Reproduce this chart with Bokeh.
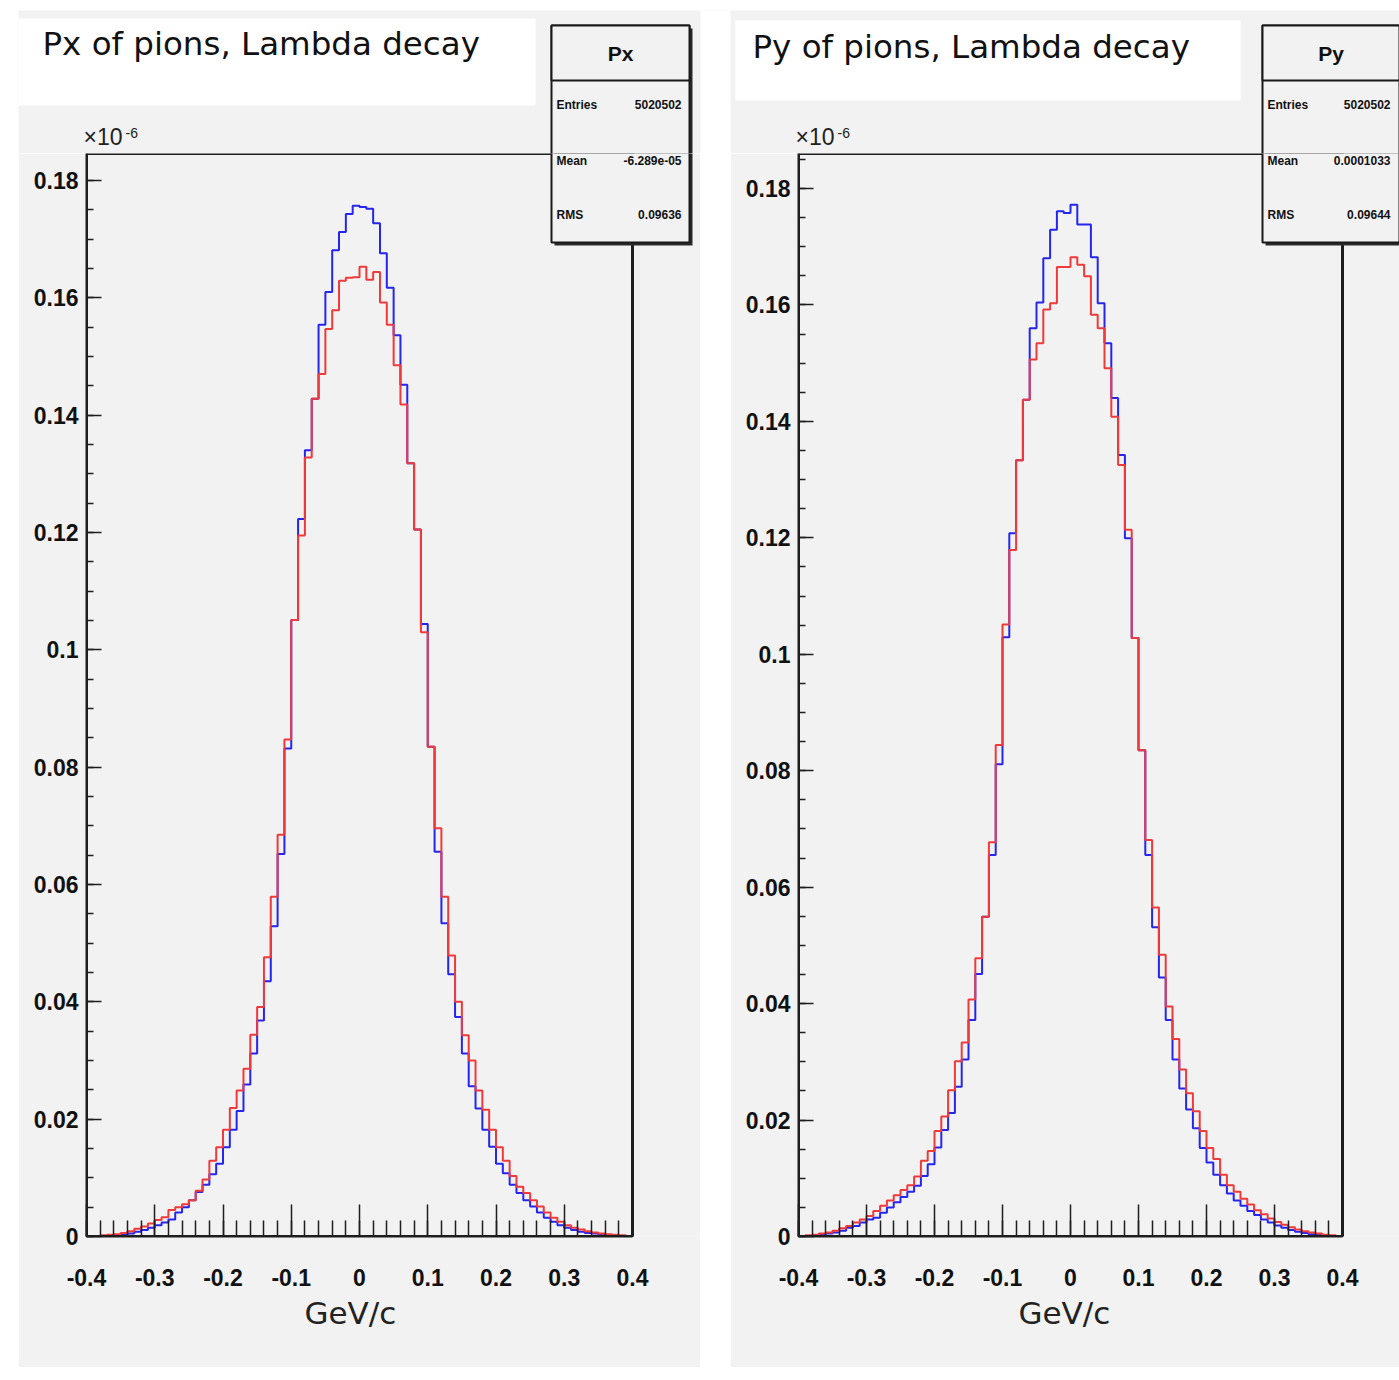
import numpy as np
from bokeh.plotting import figure
from bokeh.models import FixedTicker, BoxAnnotation, Label, Range1d, Spacer, Title
from bokeh.layouts import row, column
from bokeh.embed import file_html
from bokeh.resources import INLINE

# ---------------- data ----------------
n_bins = 80
x_low, x_high = -0.4, 0.4

px_blue = [0.00003, 0.00005, 0.0001, 0.0001, 0.0002, 0.0003, 0.0005, 0.0008, 0.0011, 0.0015,
           0.0019, 0.0024, 0.0029, 0.0041, 0.0050, 0.0062, 0.0076, 0.0088, 0.0106, 0.0124,
           0.0152, 0.0182, 0.0214, 0.0259, 0.0312, 0.0368, 0.0435, 0.0529, 0.0652, 0.0832,
           0.1051, 0.1223, 0.1340, 0.1428, 0.1554, 0.1610, 0.1681, 0.1712, 0.1743, 0.1757,
           0.1755, 0.1752, 0.1727, 0.1676, 0.1617, 0.1536, 0.1452, 0.1318, 0.1205, 0.1044,
           0.0835, 0.0656, 0.0534, 0.0447, 0.0374, 0.0312, 0.0256, 0.0218, 0.0182, 0.0153,
           0.0124, 0.0108, 0.0088, 0.0074, 0.0062, 0.0051, 0.0041, 0.0032, 0.0025, 0.0019,
           0.0015, 0.0011, 0.0008, 0.0006, 0.0005, 0.0003, 0.0002, 0.0002, 0.0001, 0.00005]

px_red = [0.00005, 0.0001, 0.0002, 0.0003, 0.0004, 0.0006, 0.0009, 0.0013, 0.0017, 0.0022,
          0.0028, 0.0033, 0.0045, 0.0050, 0.0055, 0.0062, 0.0078, 0.0097, 0.0129, 0.0152,
          0.0182, 0.0219, 0.0249, 0.0286, 0.0344, 0.0391, 0.0476, 0.0579, 0.0685, 0.0847,
          0.1051, 0.1195, 0.1328, 0.1428, 0.1470, 0.1547, 0.1579, 0.1629, 0.1634, 0.1635,
          0.1653, 0.1631, 0.1644, 0.1592, 0.1554, 0.1485, 0.1418, 0.1318, 0.1205, 0.1030,
          0.0835, 0.0696, 0.0579, 0.0479, 0.0400, 0.0343, 0.0300, 0.0249, 0.0216, 0.0182,
          0.0152, 0.0129, 0.0103, 0.0085, 0.0074, 0.0062, 0.0051, 0.0041, 0.0032, 0.0025,
          0.0019, 0.0015, 0.0012, 0.0009, 0.0007, 0.0005, 0.0004, 0.0003, 0.0002, 0.0001]

py_blue = [0.00005, 0.0001, 0.0002, 0.0003, 0.0005, 0.0007, 0.0010, 0.0015, 0.0018, 0.0024,
           0.0029, 0.0032, 0.0041, 0.0050, 0.0059, 0.0068, 0.0077, 0.0087, 0.0104, 0.0124,
           0.0153, 0.0183, 0.0212, 0.0257, 0.0304, 0.0372, 0.0451, 0.0549, 0.0655, 0.0811,
           0.1029, 0.1208, 0.1333, 0.1437, 0.1560, 0.1604, 0.1680, 0.1729, 0.1761, 0.1758,
           0.1772, 0.1738, 0.1738, 0.1682, 0.1603, 0.1534, 0.1440, 0.1342, 0.1199, 0.1028,
           0.0835, 0.0655, 0.0531, 0.0445, 0.0372, 0.0304, 0.0254, 0.0218, 0.0186, 0.0152,
           0.0127, 0.0106, 0.0088, 0.0074, 0.0062, 0.0053, 0.0044, 0.0037, 0.0029, 0.0024,
           0.0019, 0.0015, 0.0011, 0.0008, 0.0006, 0.0004, 0.0003, 0.0002, 0.0001, 0.00005]

py_red = [0.0001, 0.0002, 0.0003, 0.0005, 0.0007, 0.0010, 0.0014, 0.0018, 0.0024, 0.0029,
          0.0035, 0.0044, 0.0053, 0.0062, 0.0071, 0.0080, 0.0088, 0.0103, 0.0130, 0.0147,
          0.0181, 0.0206, 0.0251, 0.0301, 0.0333, 0.0407, 0.0478, 0.0549, 0.0677, 0.0844,
          0.1051, 0.1179, 0.1333, 0.1437, 0.1506, 0.1534, 0.1592, 0.1603, 0.1665, 0.1665,
          0.1682, 0.1669, 0.1649, 0.1583, 0.1560, 0.1491, 0.1408, 0.1325, 0.1214, 0.1028,
          0.0835, 0.0681, 0.0565, 0.0484, 0.0395, 0.0339, 0.0287, 0.0246, 0.0215, 0.0181,
          0.0152, 0.0133, 0.0106, 0.0088, 0.0077, 0.0065, 0.0055, 0.0045, 0.0038, 0.0031,
          0.0025, 0.0020, 0.0016, 0.0012, 0.0009, 0.0007, 0.0005, 0.0003, 0.0002, 0.0001]

x_ticks = [-0.4, -0.3, -0.2, -0.1, 0.0, 0.1, 0.2, 0.3, 0.4]
x_tick_labels = ["-0.4", "-0.3", "-0.2", "-0.1", "0", "0.1", "0.2", "0.3", "0.4"]
y_ticks = [0.0, 0.02, 0.04, 0.06, 0.08, 0.1, 0.12, 0.14, 0.16, 0.18]
y_tick_labels = ["0", "0.02", "0.04", "0.06", "0.08", "0.1", "0.12", "0.14", "0.16", "0.18"]

titles = ["Px of pions, Lambda decay", "Py of pions, Lambda decay"]
stat_names = ["Px", "Py"]
stat_entries = ["5020502", "5020502"]
stat_means = ["-6.289e-05", "0.0001033"]
stat_rms = ["0.09636", "0.09644"]
x_label = "GeV/c"

# ---------------- layout (page pixels) ----------------
PAGE_L, PAGE_R = 18, 1399
PANEL_TOP = 10
FRAME_TOP = 153
FRAME_BOTTOM = 1236
EDGE_TOP = 1367
PANEL_BOTTOM = 1370
BORDER_L = 68

GRAY = "#f2f2f2"
EDGE = "#b4b4b4"
BLUE = "#2525f0"
RED = "#f03a3a"
AXC = "#1e1e1e"

panels = [
    dict(left=18, width=682, frame_w=546, y_top=0.1846, blue=px_blue, red=px_red,
         title_box=(18, 18, 535, 105), title_xy=(42, 43),
         stats_box=(551, 25, 689, 242), stats_right=681, xlabel_cx=350),
    dict(left=730, width=669, frame_w=544, y_top=0.186, blue=py_blue, red=py_red,
         title_box=(735, 20, 1240, 100), title_xy=(752, 46),
         stats_box=(1262, 25, 1399, 242), stats_right=1390, xlabel_cx=1064),
]


def add_stats(p, X, Y, idx, cfg, part):
    l, t, r, b = cfg["stats_box"]
    hdr = t + 55
    p.add_layout(BoxAnnotation(left=X(l + 3), right=X(r + 3), top=Y(t + 3), bottom=Y(b + 3),
                               fill_color="#2a2a2a", fill_alpha=1, line_alpha=0))
    p.add_layout(BoxAnnotation(left=X(l), right=X(r), top=Y(t), bottom=Y(b),
                               fill_color=GRAY, fill_alpha=1, line_color="#1a1a1a",
                               line_alpha=1, line_width=2))
    p.add_layout(BoxAnnotation(left=X(l), right=X(r), top=Y(t), bottom=Y(hdr),
                               fill_color=GRAY, fill_alpha=1, line_color="#1a1a1a",
                               line_alpha=1, line_width=2))
    rows_y = [t + 79, t + 135, t + 189]
    names = ["Entries", "Mean", "RMS"]
    vals = [stat_entries[idx], stat_means[idx], stat_rms[idx]]
    if part == "top":
        p.add_layout(Label(x=X((l + r) / 2), y=Y((t + hdr) / 2), text=stat_names[idx],
                           text_font="Liberation Sans", text_font_style="bold",
                           text_font_size="21px", text_color="#111111",
                           text_align="center", text_baseline="middle"))
    for ry, nm, vv in zip(rows_y, names, vals):
        if (ry < FRAME_TOP) != (part == "top"):
            continue
        p.add_layout(Label(x=X(l + 5), y=Y(ry), text=nm, text_font="Liberation Sans",
                           text_font_style="bold", text_font_size="12px", text_color="#111111",
                           text_align="left", text_baseline="middle"))
        p.add_layout(Label(x=X(cfg["stats_right"]), y=Y(ry), text=vv, text_font="Liberation Sans",
                           text_font_style="bold", text_font_size="12px", text_color="#111111",
                           text_align="right", text_baseline="middle"))


# ---- top strip across the page: titles, stats headers, exponent ----
top = figure(width=PAGE_R - PAGE_L, height=FRAME_TOP - PANEL_TOP,
             x_range=Range1d(PAGE_L, PAGE_R), y_range=Range1d(FRAME_TOP, PANEL_TOP),
             x_axis_type=None, y_axis_type=None, min_border=0,
             output_backend="svg", toolbar_location=None)
top.background_fill_color = GRAY
top.border_fill_color = GRAY
top.outline_line_color = None
top.grid.visible = False
top.add_layout(BoxAnnotation(left=panels[0]["left"] + panels[0]["width"], right=panels[1]["left"],
                             top=PANEL_TOP, bottom=FRAME_TOP, fill_color="white",
                             fill_alpha=1, line_alpha=0))

ident = lambda v: v
for idx, cfg in enumerate(panels):
    l, t, r, b = cfg["title_box"]
    top.add_layout(BoxAnnotation(left=l, right=r, top=t, bottom=b,
                                 fill_color="white", fill_alpha=1, line_alpha=0))
    top.add_layout(Label(x=cfg["title_xy"][0], y=cfg["title_xy"][1], text=titles[idx],
                         text_font="DejaVu Sans", text_font_size="32.5px", text_color="#111111",
                         text_baseline="middle", text_align="left"))
    fx0 = cfg["left"] + BORDER_L
    top.add_layout(Label(x=fx0 - 3, y=149, text="\u00d710", text_font="Liberation Sans",
                         text_font_size="23px", text_color="#222222", text_baseline="bottom"))
    top.add_layout(Label(x=fx0 + 39, y=137, text="-6", text_font="Liberation Sans",
                         text_font_size="14px", text_color="#222222", text_baseline="bottom"))
    add_stats(top, ident, ident, idx, cfg, "top")


def make_main(idx, cfg):
    fx0 = cfg["left"] + BORDER_L
    fh = FRAME_BOTTOM - FRAME_TOP
    frame_w = cfg["frame_w"]
    y_top = cfg["y_top"]
    ext_w = cfg["left"] + cfg["width"] - fx0

    def X(px):
        return x_low + (px - fx0) * (x_high - x_low) / frame_w

    def Y(py):
        return (FRAME_BOTTOM - py) * y_top / fh

    p = figure(frame_width=ext_w, frame_height=fh,
               x_range=Range1d(x_low, X(cfg["left"] + cfg["width"])), y_range=Range1d(0, y_top),
               output_backend="svg", toolbar_location=None,
               min_border_left=BORDER_L, min_border_right=0, min_border_top=0,
               min_border_bottom=EDGE_TOP - FRAME_BOTTOM)
    p.background_fill_color = GRAY
    p.border_fill_color = GRAY
    p.outline_line_color = None
    p.grid.visible = False

    p.add_layout(BoxAnnotation(left=x_low, right=x_high, bottom=0, top=y_top,
                               fill_alpha=0, line_color=AXC, line_alpha=1, line_width=3))

    edges = np.round(np.linspace(x_low, x_high, n_bins + 1), 4)
    yb = list(cfg["blue"]) + [cfg["blue"][-1]]
    yr = list(cfg["red"]) + [cfg["red"][-1]]
    p.step(edges, yb, mode="after", line_color=BLUE, line_width=2)
    p.step(edges, yr, mode="after", line_color=RED, line_width=2)

    xminor = [float(v) for v in np.round(np.arange(-0.4, 0.4001, 0.02), 3)]
    yminor = [float(v) for v in np.round(np.arange(0, y_top, 0.005), 3)]
    p.xaxis.ticker = FixedTicker(ticks=x_ticks, minor_ticks=xminor)
    p.yaxis.ticker = FixedTicker(ticks=y_ticks, minor_ticks=yminor)
    p.xaxis.major_label_overrides = {t: l for t, l in zip(x_ticks, x_tick_labels)}
    p.yaxis.major_label_overrides = {t: l for t, l in zip(y_ticks, y_tick_labels)}
    p.xaxis.bounds = (x_low, x_high)
    for ax in (p.xaxis[0], p.yaxis[0]):
        ax.axis_line_color = AXC
        ax.axis_line_width = 2
        ax.major_tick_line_color = AXC
        ax.minor_tick_line_color = AXC
        ax.major_tick_line_width = 1.5
        ax.minor_tick_line_width = 1.5
        ax.major_tick_out = 0
        ax.minor_tick_out = 0
        ax.major_label_text_font = "Liberation Sans"
        ax.major_label_text_font_style = "bold"
        ax.major_label_text_font_size = "23px"
        ax.major_label_text_color = "#111111"
    p.xaxis.major_tick_in = 32
    p.xaxis.minor_tick_in = 16
    p.yaxis.major_tick_in = 15
    p.yaxis.minor_tick_in = 7
    p.xaxis.major_label_standoff = 32
    p.yaxis.major_label_standoff = 8

    # x axis title, placed under the axis, centred where the reference has it
    label_w = 92
    p.add_layout(Title(text=x_label, align="left", offset=cfg["xlabel_cx"] - fx0 - label_w / 2,
                       text_font="DejaVu Sans", text_font_style="normal", text_font_size="31px",
                       text_color="#222222", vertical_align="bottom", standoff=8), "below")

    add_stats(p, X, Y, idx, cfg, "main")

    # darker bottom edge of the pad
    edge = figure(width=cfg["width"], height=PANEL_BOTTOM - EDGE_TOP,
                  x_axis_type=None, y_axis_type=None, min_border=0,
                  output_backend="svg", toolbar_location=None)
    edge.background_fill_color = EDGE
    edge.border_fill_color = EDGE
    edge.outline_line_color = None
    edge.grid.visible = False
    return column(p, edge)


m1 = make_main(0, panels[0])
m2 = make_main(1, panels[1])

layout = column(Spacer(height=PANEL_TOP),
                row(Spacer(width=PAGE_L), top),
                row(Spacer(width=PAGE_L), m1, Spacer(width=panels[1]["left"] - 700), m2))

open("out.html", "w").write(file_html(layout, INLINE))
